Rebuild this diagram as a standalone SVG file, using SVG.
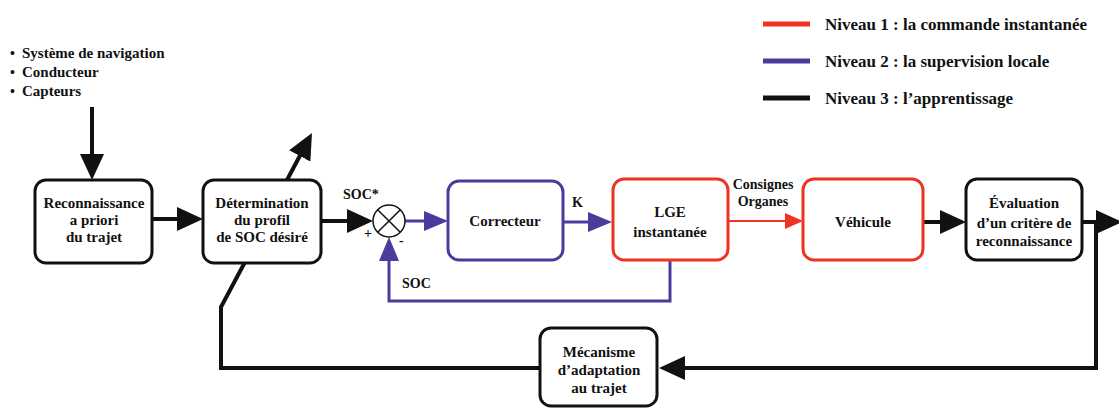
<svg xmlns="http://www.w3.org/2000/svg" width="1119" height="408" viewBox="0 0 1119 408">
<defs>
<style>
text{font-family:'Liberation Serif','DejaVu Serif',serif;font-weight:bold;fill:#111;}
.t{font-size:15px;text-anchor:middle;}
.lg{font-size:17px;}
.bl{font-size:15px;}
.lb{font-size:14px;}
.box{fill:#fff;stroke-width:3;}
.k{stroke:#111;}
.b{stroke:#4a3c9c;}
.r{stroke:#f03222;}
.ck{fill:none;stroke:#111;stroke-width:4;marker-end:url(#ak);}
.cb{fill:none;stroke:#4a3c9c;stroke-width:3;marker-end:url(#ab);}
.cr{fill:none;stroke:#f03222;stroke-width:2;marker-end:url(#ar);}
.ln{fill:none;stroke:#111;stroke-width:4;}
</style>
<marker id="ak" markerUnits="userSpaceOnUse" markerWidth="26" markerHeight="24" viewBox="0 0 26 24" refX="2" refY="12" orient="auto"><path d="M0,0 L26,12 L0,24 z" fill="#111"/></marker>
<marker id="ab" markerUnits="userSpaceOnUse" markerWidth="24" markerHeight="20" viewBox="0 0 24 20" refX="2" refY="10" orient="auto"><path d="M0,0 L24,10 L0,20 z" fill="#4a3c9c"/></marker>
<marker id="ar" markerUnits="userSpaceOnUse" markerWidth="18" markerHeight="16" viewBox="0 0 18 16" refX="2" refY="8" orient="auto"><path d="M0,0 L18,8 L0,16 z" fill="#f03222"/></marker>
</defs>
<rect width="1119" height="408" fill="#fff"/>

<g id="legend">
<line x1="763" y1="24" x2="810" y2="24" stroke="#f03222" stroke-width="5"/>
<text class="lg" x="825" y="30">Niveau 1 : la commande instantanée</text>
<line x1="763" y1="61" x2="810" y2="61" stroke="#4a3c9c" stroke-width="5"/>
<text class="lg" x="825" y="67">Niveau 2 : la supervision locale</text>
<line x1="763" y1="98" x2="810" y2="98" stroke="#111" stroke-width="5"/>
<text class="lg" x="825" y="104">Niveau 3 : l’apprentissage</text>
</g>

<g id="inputs">
<text class="lb" x="10" y="58">•</text>
<text class="bl" x="22" y="58">Système de navigation</text>
<text class="lb" x="10" y="77">•</text>
<text class="bl" x="22" y="77">Conducteur</text>
<text class="lb" x="10" y="96">•</text>
<text class="bl" x="22" y="96">Capteurs</text>
</g>

<g id="connectors">
<path class="ck" d="M92,107 V156"/>
<path class="ck" d="M152,219 H179"/>
<path class="ck" d="M287,180 L300.7,154.2"/>
<path class="ck" d="M321,221 H349"/>
<path class="cb" d="M405,221 H426"/>
<path class="cb" d="M563,222 H590"/>
<path class="cb" d="M670,260 V301 H389 V259"/>
<path class="cr" d="M728,221 H787"/>
<path class="ck" d="M923,222 H942"/>
<path class="ck" d="M1082,222 H1098"/>
<path class="ck" d="M1096,222 V368 H683"/>
<path class="ln" d="M540,368 H221 V307 L245,262"/>
<text class="lb" x="343" y="199">SOC*</text>
<text class="lb" x="364" y="238">+</text>
<text class="lb" x="399" y="245">-</text>
<text class="lb" x="402" y="288">SOC</text>
<text class="lb" x="572" y="207">K</text>
<text class="lb" x="763" y="189" text-anchor="middle">Consignes</text>
<text class="lb" x="763" y="206" text-anchor="middle">Organes</text>
</g>

<g id="n-reconnaissance">
<rect class="box k" x="35" y="180" width="117" height="83" rx="11"/>
<text class="t" x="94" y="208">Reconnaissance</text>
<text class="t" x="94" y="225">a priori</text>
<text class="t" x="94" y="242">du trajet</text>
</g>
<g id="n-determination">
<rect class="box k" x="203" y="180" width="118" height="83" rx="11"/>
<text class="t" x="262" y="208">Détermination</text>
<text class="t" x="262" y="225">du profil</text>
<text class="t" x="262" y="242">de SOC désiré</text>
</g>
<g id="n-sum">
<circle cx="389" cy="221" r="16" fill="#fff" stroke="#111" stroke-width="1.5"/>
<path d="M377.7,209.7 L400.3,232.3 M400.3,209.7 L377.7,232.3" stroke="#111" stroke-width="1.5"/>
</g>
<g id="n-correcteur">
<rect class="box b" x="448" y="181" width="115" height="79" rx="11"/>
<text class="t" x="505" y="226">Correcteur</text>
</g>
<g id="n-lge">
<rect class="box r" x="613" y="179" width="115" height="81" rx="11"/>
<text class="t" x="670" y="217">LGE</text>
<text class="t" x="670" y="237">instantanée</text>
</g>
<g id="n-vehicule">
<rect class="box r" x="803" y="179" width="120" height="81" rx="11"/>
<text class="t" x="863" y="227">Véhicule</text>
</g>
<g id="n-evaluation">
<rect class="box k" x="966" y="179" width="116" height="81" rx="11"/>
<text class="t" x="1024" y="208">Évaluation</text>
<text class="t" x="1024" y="228">d’un critère de</text>
<text class="t" x="1024" y="246">reconnaissance</text>
</g>
<g id="n-mecanisme">
<rect class="box k" x="540" y="328" width="117" height="78" rx="11"/>
<text class="t" x="599" y="357">Mécanisme</text>
<text class="t" x="599" y="375">d’adaptation</text>
<text class="t" x="599" y="393">au trajet</text>
</g>
</svg>
